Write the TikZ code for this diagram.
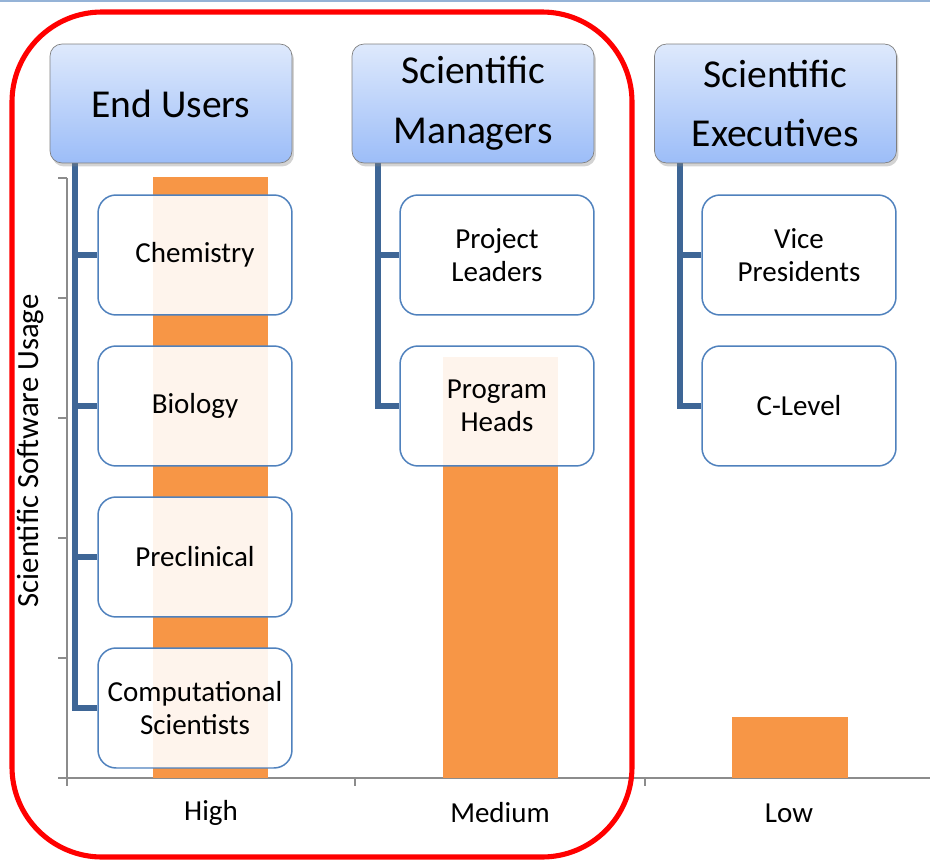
\documentclass[tikz,border=0pt]{standalone}
\usepackage{fontspec}
\setmainfont{Carlito}
\usetikzlibrary{shadows}
\definecolor{barorange}{HTML}{F79646}
\definecolor{headtop}{HTML}{DEE9FC}
\definecolor{headbot}{HTML}{9CBDF8}
\definecolor{headgray}{HTML}{7F7F7F}
\definecolor{leafblue}{HTML}{4F81BD}
\definecolor{connblue}{HTML}{3E6696}
\definecolor{axisgray}{HTML}{8C8C8C}
\definecolor{topline}{HTML}{95B3D7}

\tikzset{
  head/.style={draw=headgray, rounded corners=0.24cm, top color=headtop, bottom color=headbot,
    minimum width=4.84cm, minimum height=2.38cm, align=center, font=\fontsize{22.5}{34}\selectfont,
    drop shadow={shadow xshift=0.04cm, shadow yshift=-0.07cm, opacity=0.35}},
  leaf/.style={draw=leafblue, line width=0.85pt, rounded corners=0.36cm, fill=white, fill opacity=0.9,
    text opacity=1, minimum width=3.88cm, minimum height=2.4cm, align=center,
    font=\fontsize{16.5}{19}\selectfont},
  conn/.style={connblue, line width=2.9pt},
  axis/.style={axisgray, line width=0.85pt}
}

\begin{document}
\begin{tikzpicture}[x=0.02cm, y=-0.02cm]
  \useasboundingbox (0,0) rectangle (930,859);
  \draw[topline, line width=1.1pt] (0,1) -- (930,1);

  % axes
  \draw[axis] (67,178) -- (67,778);
  \foreach \yy in {178,298,418,538,658,778}
    \draw[axis] (58,\yy) -- (67,\yy);
  \draw[axis] (58,778) -- (930,778);
  \foreach \xx in {67,355,645}
    \draw[axis] (\xx,778) -- (\xx,786);

  % bars
  \fill[barorange] (153,177) rectangle (268,778);
  \fill[barorange] (443,357) rectangle (558,778);
  \fill[barorange] (732,717) rectangle (848,778);

  \node[font=\fontsize{16.5}{19}\selectfont] (high) at (211,813) {High};
  \node[font=\fontsize{16.5}{19}\selectfont] (medium) at (500,813) {Medium};
  \node[font=\fontsize{16.5}{19}\selectfont] (low) at (789,813) {Low};
  \node[rotate=90, font=\fontsize{17.5}{20}\selectfont] (usage) at (31,451) {Scientific Software Usage};

  % connectors
  \coordinate (euline) at (75,163);
  \coordinate (smline) at (378,163);
  \coordinate (seline) at (680,163);

  \node[leaf] (chem) at (195,255) {Chemistry};
  \node[leaf] (bio) at (195,406) {Biology};
  \node[leaf] (precl) at (195,557) {Preclinical};
  \node[leaf] (comp) at (195,708) {Computational\\Scientists};
  \node[leaf] (proj) at (497,255) {Project\\Leaders};
  \node[leaf] (prog) at (497,406) {Program\\Heads};
  \node[leaf] (vice) at (799,255) {Vice\\Presidents};
  \node[leaf] (clev) at (799,406) {C-Level};

  \draw[conn] (euline) |- (chem.west);
  \draw[conn] (euline) |- (bio.west);
  \draw[conn] (euline) |- (precl.west);
  \draw[conn] (euline) |- (comp.west);
  \draw[conn] (smline) |- (proj.west);
  \draw[conn] (smline) |- (prog.west);
  \draw[conn] (seline) |- (vice.west);
  \draw[conn] (seline) |- (clev.west);

  \node[head] (eu) at (171,103.5) {End Users};
  \node[head] (sm) at (473,103.5) {Scientific\\Managers};
  \node[head] (se) at (775.5,103.5) {Scientific\\Executives};

  \draw[red, line width=2.9pt, rounded corners=1.8cm] (12,12) rectangle (632,857);
\end{tikzpicture}
\end{document}
